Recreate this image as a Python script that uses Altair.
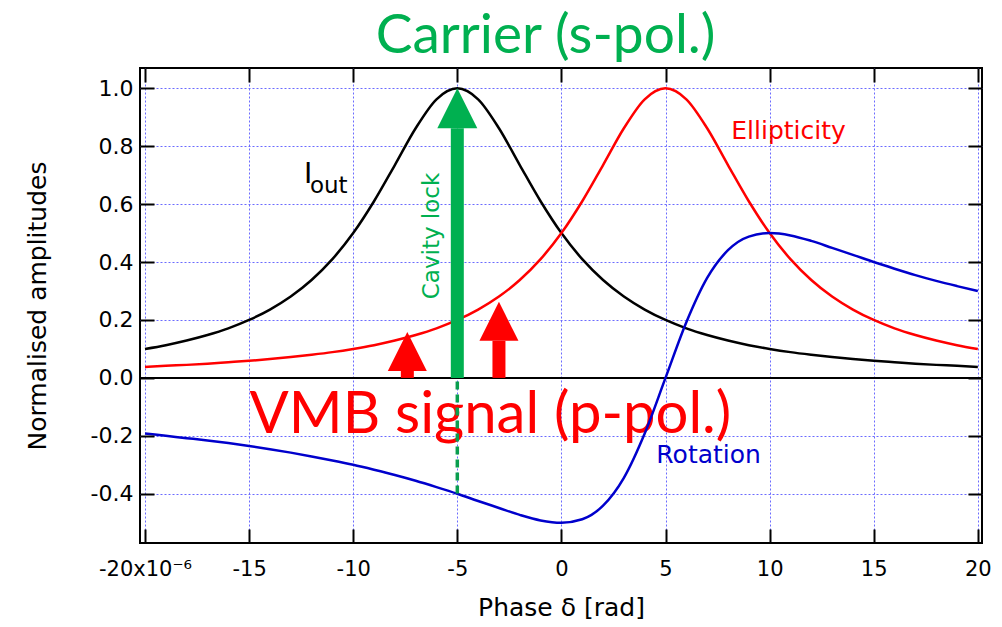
import altair as alt
import pandas as pd

# ---- data -----------------------------------------------------------------
x_vals = list(range(-20, 21))
i_out = [0.100, 0.113, 0.129, 0.148, 0.171, 0.200, 0.236, 0.281, 0.338, 0.410,
         0.500, 0.610, 0.735, 0.862, 0.962, 1.000, 0.962, 0.862, 0.735, 0.610,
         0.500, 0.410, 0.338, 0.281, 0.236, 0.200, 0.171, 0.148, 0.129, 0.113,
         0.100, 0.089, 0.080, 0.072, 0.065, 0.059, 0.054, 0.049, 0.045, 0.042,
         0.038]
ellipticity = [0.038, 0.042, 0.045, 0.049, 0.054, 0.059, 0.065, 0.072, 0.080, 0.089,
               0.100, 0.113, 0.129, 0.148, 0.171, 0.200, 0.236, 0.281, 0.338, 0.410,
               0.500, 0.610, 0.735, 0.862, 0.962, 1.000, 0.962, 0.862, 0.735, 0.610,
               0.500, 0.410, 0.338, 0.281, 0.236, 0.200, 0.171, 0.148, 0.129, 0.113,
               0.100]
rotation = [-0.192, -0.200, -0.208, -0.216, -0.225, -0.235, -0.246, -0.258, -0.271, -0.285,
            -0.300, -0.317, -0.335, -0.355, -0.377, -0.400, -0.425, -0.449, -0.473, -0.492,
            -0.500, -0.488, -0.441, -0.345, -0.192, 0.000, 0.192, 0.345, 0.441, 0.488,
            0.500, 0.492, 0.473, 0.449, 0.425, 0.400, 0.377, 0.355, 0.335, 0.317,
            0.300]

series_names = ["Iout", "Ellipticity", "Rotation"]
series_colors = ["#000000", "#ff0000", "#0000cc"]
series_widths = [2.5, 2.5, 3]

x_ticks = [-20, -15, -10, -5, 0, 5, 10, 15, 20]
y_ticks = [-0.4, -0.2, 0.0, 0.2, 0.4, 0.6, 0.8, 1.0]

# arrows: position, start, base of head, colour, head size
arrow_x = [-5, -7.4, -3]
arrow_start = [0.0, 0.0, 0.0]
arrow_base = [0.862, 0.024, 0.128]
arrow_color = ["#00b050", "#ff0000", "#ff0000"]
arrow_head = [1600, 1521, 1521]

lock_x = [-5]
lock_top = [-0.012]
lock_bottom = [-0.4]

zero_level = [0.0]

# ---- chart -----------------------------------------------------------------
n = len(x_vals)
lines_df = pd.DataFrame({
    "x": x_vals * 3,
    "y": i_out + ellipticity + rotation,
    "series": [series_names[0]] * n + [series_names[1]] * n + [series_names[2]] * n,
})

xs = alt.Scale(domain=[-20.24, 20.2], nice=False, zero=False)
ys = alt.Scale(domain=[-0.57, 1.07], nice=False, zero=False)

GRID = dict(grid=True, gridColor="#6b6bff", gridDash=[2, 2], gridWidth=1,
            ticks=False, labels=False, domain=False, title=None)
TICKS = dict(offset=-14, tickSize=14, tickWidth=2, tickColor="black",
             domain=False, grid=False, zindex=1)

grid_layer = alt.Chart(lines_df).mark_line(opacity=0).encode(
    x=alt.X("x:Q", scale=xs, axis=alt.Axis(orient="bottom", values=x_ticks, **GRID)),
    y=alt.Y("y:Q", scale=ys, axis=alt.Axis(orient="left", values=y_ticks, **GRID)),
    detail="series:N",
)

frame_ticks = alt.Chart(lines_df).mark_line(opacity=0).encode(
    x=alt.X("x:Q", scale=xs, axis=alt.Axis(orient="top", values=x_ticks, labels=False,
                                           title=None, **TICKS)),
    y=alt.Y("y:Q", scale=ys, axis=alt.Axis(orient="right", values=y_ticks, labels=False,
                                           title=None, **TICKS)),
    detail="series:N",
)

lines = alt.Chart(lines_df).mark_line(interpolate="monotone").encode(
    x=alt.X("x:Q", scale=xs, axis=alt.Axis(
        orient="bottom", values=x_ticks,
        labelExpr="datum.value == -20 ? '-20x10⁻⁶' : replace(datum.label, '−', '-')",
        labelFont="DejaVu Sans", labelFontSize=21, labelColor="black", labelPadding=15,
        labelFlush=False, labelOverlap=False, labelBound=False,
        title="Phase δ [rad]", titleFont="DejaVu Sans", titleFontSize=25,
        titleFontWeight="normal", titleColor="black", titlePadding=16, **TICKS)),
    y=alt.Y("y:Q", scale=ys, axis=alt.Axis(
        orient="left", values=y_ticks,
        labelExpr="replace(format(datum.value, '.1f'), '−', '-')",
        labelFont="DejaVu Sans", labelFontSize=22, labelColor="black", labelPadding=7,
        title="Normalised amplitudes", titleFont="DejaVu Sans", titleFontSize=25,
        titleFontWeight="normal", titleColor="black", titlePadding=40, **TICKS)),
    color=alt.Color("series:N", scale=alt.Scale(domain=series_names, range=series_colors),
                    legend=None),
    strokeWidth=alt.StrokeWidth("series:N",
                                scale=alt.Scale(domain=series_names, range=series_widths),
                                legend=None),
)

zero_line = alt.Chart(pd.DataFrame({"y": zero_level})).mark_rule(
    color="black", strokeWidth=2).encode(y=alt.Y("y:Q", scale=ys, axis=None))

arrows_df = pd.DataFrame({"x": arrow_x, "y0": arrow_start, "base": arrow_base,
                          "color": arrow_color, "size": arrow_head})
shafts = alt.Chart(arrows_df).mark_rule(strokeWidth=13, strokeCap="butt").encode(
    x=alt.X("x:Q", scale=xs, axis=None),
    y=alt.Y("y0:Q", scale=ys, axis=None),
    y2="base:Q",
    color=alt.Color("color:N", scale=None),
)
heads = alt.Chart(arrows_df).mark_point(
    shape="M-1,0L1,0L0,-2Z", filled=True, opacity=1, strokeWidth=0).encode(
    x=alt.X("x:Q", scale=xs, axis=None),
    y=alt.Y("base:Q", scale=ys, axis=None),
    color=alt.Color("color:N", scale=None),
    size=alt.Size("size:Q", scale=None),
)

lock_df = pd.DataFrame({"x": lock_x, "top": lock_top, "bottom": lock_bottom})
lock_dash = alt.Chart(lock_df).mark_rule(
    color="#0a9e4f", strokeWidth=3.5, strokeDash=[8, 5]).encode(
    x=alt.X("x:Q", scale=xs, axis=None),
    y=alt.Y("top:Q", scale=ys, axis=None),
    y2="bottom:Q",
)


def label(text, x, y, size, color, font="DejaVu Sans", align="center",
          baseline="alphabetic", angle=0):
    d = pd.DataFrame({"x": [x], "y": [y], "t": [text]})
    return alt.Chart(d).mark_text(
        font=font, fontSize=size, color=color, align=align, baseline=baseline,
        angle=angle).encode(
        x=alt.X("x:Q", scale=xs, axis=None),
        y=alt.Y("y:Q", scale=ys, axis=None),
        text="t:N",
    )


carrier = label("Carrier (s-pol.)", -0.76, 1.122, 55, "#00b050", font="Lato")
vmb = label("VMB signal (p-pol.)", -3.41, -0.190, 58, "#ff0000", font="Lato")
ell = label("Ellipticity", 10.91, 0.825, 25, "#ff0000")
rot = label("Rotation", 7.07, -0.294, 25, "#0000cc")
i_main = label("I", -12.36, 0.673, 28, "black", align="left")
i_sub = label("out", -12.08, 0.638, 23, "black", align="left")
cav = label("Cavity lock", -6.21, 0.49, 23, "#00b050", baseline="middle", angle=270)

chart = alt.layer(
    grid_layer, vmb, zero_line, lines, lock_dash, shafts, heads,
    carrier, ell, rot, i_main, i_sub, cav, frame_ticks,
).resolve_axis(x="independent", y="independent").properties(
    width=842, height=475,
    padding={"left": 132, "top": 60, "right": 12, "bottom": 76},
    autosize=alt.AutoSizeParams(type="none"),
    background="white",
).configure_view(stroke="black", strokeWidth=2)

chart.save("out.html", embed_options={"renderer": "svg", "actions": False})
